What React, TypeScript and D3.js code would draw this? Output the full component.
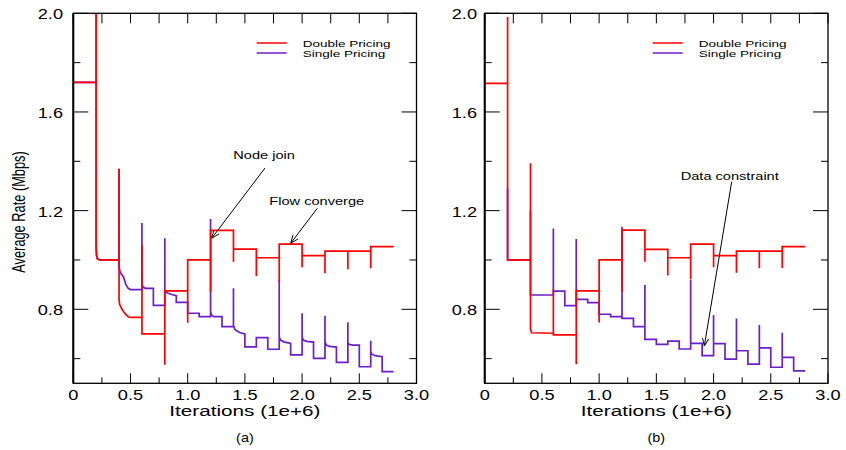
import React from "react";
import * as d3 from "d3";

// ---------- data ----------
type P = [number, number];

// Panel (a)
const doubleA: P[] = [
  [0, 1.72], [0.2, 1.72], [0.2, 2.05], [0.2, 1.05], [0.203, 1.02], [0.21, 1.005], [0.23, 1.0],
  [0.4, 1.0], [0.4, 1.37], [0.4, 0.84], [0.405, 0.82], [0.42, 0.805], [0.44, 0.79], [0.46, 0.778],
  [0.48, 0.77], [0.5, 0.767], [0.6, 0.767], [0.6, 1.06], [0.6, 0.7], [0.8, 0.7], [0.8, 0.575],
  [0.8, 0.875], [1.0, 0.875], [1.0, 0.745], [1.0, 1.0], [1.2, 1.0], [1.2, 0.87], [1.2, 1.12],
  [1.4, 1.12], [1.4, 0.993], [1.4, 1.044], [1.6, 1.044], [1.6, 0.935], [1.6, 1.009], [1.8, 1.009],
  [1.8, 0.912], [1.8, 1.064], [2.0, 1.064], [2.0, 0.97], [2.0, 1.018], [2.2, 1.018], [2.2, 0.946],
  [2.2, 1.036], [2.4, 1.036], [2.4, 0.962], [2.4, 1.036], [2.6, 1.036], [2.6, 0.966], [2.6, 1.054],
  [2.8, 1.054],
];

const singleA: P[] = [
  [0, 1.72], [0.2, 1.72], [0.2, 2.05], [0.2, 1.05], [0.203, 1.02], [0.21, 1.005], [0.23, 1.0],
  [0.4, 1.0], [0.4, 1.37], [0.4, 0.97], [0.41, 0.95], [0.425, 0.94], [0.44, 0.93], [0.46, 0.9],
  [0.48, 0.885], [0.5, 0.88], [0.6, 0.88], [0.6, 1.15], [0.6, 0.9], [0.61, 0.89], [0.63, 0.885],
  [0.7, 0.885], [0.7, 0.816], [0.8, 0.816], [0.8, 1.088], [0.8, 0.88], [0.81, 0.87], [0.83, 0.865],
  [0.86, 0.86], [0.9, 0.855], [0.9, 0.828], [1.0, 0.828], [1.0, 0.784], [1.1, 0.784], [1.1, 0.77],
  [1.2, 0.77], [1.2, 1.166], [1.2, 0.79], [1.21, 0.775], [1.23, 0.77], [1.3, 0.77], [1.3, 0.73],
  [1.4, 0.73], [1.4, 0.885], [1.4, 0.735], [1.41, 0.72], [1.43, 0.712], [1.46, 0.705], [1.5, 0.7],
  [1.5, 0.648], [1.6, 0.648], [1.6, 0.685], [1.7, 0.685], [1.7, 0.638], [1.8, 0.638], [1.8, 0.919],
  [1.8, 0.69], [1.81, 0.675], [1.84, 0.668], [1.9, 0.662], [1.9, 0.615], [2.0, 0.615], [2.0, 0.784],
  [2.0, 0.69], [2.01, 0.675], [2.04, 0.67], [2.1, 0.667], [2.1, 0.601], [2.2, 0.601], [2.2, 0.774],
  [2.2, 0.67], [2.21, 0.655], [2.24, 0.65], [2.3, 0.647], [2.3, 0.585], [2.4, 0.585], [2.4, 0.747],
  [2.4, 0.665], [2.41, 0.658], [2.44, 0.655], [2.5, 0.655], [2.5, 0.567], [2.6, 0.567], [2.6, 0.673],
  [2.6, 0.63], [2.61, 0.618], [2.64, 0.612], [2.7, 0.608], [2.7, 0.547], [2.8, 0.547],
];

// Panel (b)
const doubleB: P[] = [
  [0, 1.716], [0.2, 1.716], [0.2, 1.985], [0.2, 1.0], [0.4, 1.0], [0.4, 1.392], [0.4, 0.72],
  [0.41, 0.705], [0.6, 0.703], [0.6, 0.881], [0.6, 0.696], [0.8, 0.696], [0.8, 0.577], [0.8, 0.875],
  [1.0, 0.875], [1.0, 0.746], [1.0, 1.0], [1.2, 1.0], [1.2, 0.871], [1.2, 1.121], [1.4, 1.121],
  [1.4, 0.993], [1.4, 1.043], [1.6, 1.043], [1.6, 0.937], [1.6, 1.009], [1.8, 1.009], [1.8, 0.922],
  [1.8, 1.064], [2.0, 1.064], [2.0, 0.97], [2.0, 1.018], [2.2, 1.018], [2.2, 0.948], [2.2, 1.036],
  [2.4, 1.036], [2.4, 0.966], [2.4, 1.036], [2.6, 1.036], [2.6, 0.967], [2.6, 1.054], [2.8, 1.054],
];

const singleB: P[] = [
  [0.2, 1.29], [0.2, 1.0], [0.4, 1.0], [0.4, 1.2], [0.4, 0.858], [0.6, 0.858], [0.6, 1.128],
  [0.6, 0.874], [0.7, 0.874], [0.7, 0.815], [0.8, 0.815], [0.8, 1.085], [0.8, 0.84], [0.9, 0.84],
  [0.9, 0.827], [1.0, 0.827], [1.0, 0.78], [1.1, 0.78], [1.1, 0.77], [1.2, 0.77], [1.2, 1.135],
  [1.2, 0.763], [1.3, 0.763], [1.3, 0.73], [1.4, 0.73], [1.4, 0.899], [1.4, 0.678], [1.5, 0.678],
  [1.5, 0.658], [1.6, 0.658], [1.6, 0.671], [1.7, 0.671], [1.7, 0.639], [1.8, 0.639], [1.8, 0.92],
  [1.8, 0.662], [1.9, 0.662], [1.9, 0.612], [2.0, 0.612], [2.0, 0.777], [2.0, 0.661], [2.1, 0.661],
  [2.1, 0.598], [2.2, 0.598], [2.2, 0.763], [2.2, 0.632], [2.3, 0.632], [2.3, 0.578], [2.4, 0.578],
  [2.4, 0.736], [2.4, 0.644], [2.5, 0.644], [2.5, 0.565], [2.6, 0.565], [2.6, 0.705], [2.6, 0.605],
  [2.7, 0.605], [2.7, 0.55], [2.8, 0.55],
];

const xTicks = [0, 0.25, 0.5, 0.75, 1.0, 1.25, 1.5, 1.75, 2.0, 2.25, 2.5, 2.75, 3.0];
const xTickLabels = ["0", "0.5", "1.0", "1.5", "2.0", "2.5", "3.0"];
const yTicks = [0.6, 0.8, 1.0, 1.2, 1.4, 1.6, 1.8, 2.0];
const yTickLabels = ["0.8", "1.2", "1.6", "2.0"];
const seriesNames = ["Double Pricing", "Single Pricing"];
const yTitle = "Average Rate (Mbps)";
const xTitle = "Iterations (1e+6)";

const RED = "#ff0000";
const PURPLE = "#6a1fc8";
const FONT = "'Liberation Sans', Arial, Helvetica, sans-serif";

// ---------- layout ----------
const W = 846;
const H = 450;
const TOP = 13.3;
const BOTTOM = 383.3;

type Ann = { text: string; tx: number; ty: number; x1: number; y1: number; x2: number; y2: number };

function STxt(props: {
  x: number; y: number; sx: number; size: number; anchor?: string; children: React.ReactNode;
}) {
  const { x, y, sx, size, anchor = "start", children } = props;
  return (
    <text
      transform={`translate(${x},${y}) scale(${sx},1)`}
      fontSize={size}
      fontFamily={FONT}
      textAnchor={anchor}
      fill="#000"
    >
      {children}
    </text>
  );
}

function Panel(props: {
  id: string; left: number; right: number; dbl: P[]; sgl: P[]; caption: string;
  showYTitle: boolean; labelRight: number; legendX: number; ann: Ann[];
}) {
  const { id, left, right, dbl, sgl, caption, showYTitle, labelRight, legendX, ann } = props;
  const x = d3.scaleLinear().domain([0, 3]).range([left, right]);
  const y = d3.scaleLinear().domain([0.5, 2.0]).range([BOTTOM, TOP]);
  const line = d3.line<P>().x((d) => x(d[0])).y((d) => y(d[1]));
  const cx = (left + right) / 2;

  return (
    <g>
      <defs>
        <clipPath id={`clip-${id}`}>
          <rect x={left} y={TOP} width={right - left} height={BOTTOM - TOP} />
        </clipPath>
        <marker id={`arr-${id}`} viewBox="0 0 10 10" refX="10" refY="5" markerWidth="8" markerHeight="8" orient="auto-start-reverse" markerUnits="userSpaceOnUse">
          <path d="M0,1 L10,5 L0,9" fill="none" stroke="#000" strokeWidth={1.2} />
        </marker>
      </defs>

      {/* series */}
      <g clipPath={`url(#clip-${id})`}>
        <path d={line(sgl) || ""} fill="none" stroke={PURPLE} strokeWidth={1.7} strokeLinejoin="miter" />
        <path d={line(dbl) || ""} fill="none" stroke={RED} strokeWidth={1.7} strokeLinejoin="miter" />
      </g>

      {/* ticks */}
      {xTicks.map((t, i) => {
        const major = i % 2 === 0;
        return (
          <g key={`xt${i}`} stroke="#000" strokeWidth={1}>
            <line x1={x(t)} x2={x(t)} y1={BOTTOM} y2={BOTTOM - (major ? 10 : 6)} />
            <line x1={x(t)} x2={x(t)} y1={TOP} y2={TOP + 10} />
          </g>
        );
      })}
      {yTicks.map((t, i) => {
        const major = i % 2 === 1;
        const len = major ? 15 : 7;
        return (
          <g key={`yt${i}`} stroke="#000" strokeWidth={1}>
            <line x1={left} x2={left + len} y1={y(t)} y2={y(t)} />
            <line x1={right} x2={right - len} y1={y(t)} y2={y(t)} />
          </g>
        );
      })}

      {/* frame */}
      <rect x={left} y={TOP} width={right - left} height={BOTTOM - TOP} fill="none" stroke="#000" strokeWidth={1.3} />
      <line x1={left} x2={left} y1={TOP} y2={BOTTOM} stroke="#000" strokeWidth={2} />

      {/* tick labels */}
      {xTickLabels.map((s, i) => (
        <STxt key={`xl${i}`} x={x(i * 0.5)} y={400} sx={1.3} size={14} anchor="middle">{s}</STxt>
      ))}
      {yTickLabels.map((s, i) => (
        <STxt key={`yl${i}`} x={labelRight} y={y(+s) + 6} sx={1.3} size={14} anchor="end">{s}</STxt>
      ))}

      {/* titles */}
      <STxt x={cx} y={416} sx={1.38} size={15} anchor="middle">{xTitle}</STxt>
      <STxt x={cx} y={442} sx={1.2} size={12} anchor="middle">{caption}</STxt>
      {showYTitle && (
        <text
          transform={`translate(${25},${212}) rotate(-90) scale(1,1.45)`}
          fontSize={12.8}
          fontFamily={FONT}
          textAnchor="middle"
          fill="#000"
        >
          {yTitle}
        </text>
      )}

      {/* legend */}
      <line x1={legendX} x2={legendX + 30} y1={43} y2={43} stroke={RED} strokeWidth={1.5} />
      <line x1={legendX} x2={legendX + 30} y1={53} y2={53} stroke={PURPLE} strokeWidth={1.5} />
      <STxt x={legendX + 46} y={46.6} sx={1.41} size={9.6}>{seriesNames[0]}</STxt>
      <STxt x={legendX + 46} y={57.2} sx={1.41} size={9.6}>{seriesNames[1]}</STxt>

      {/* annotations */}
      {ann.map((a, i) => (
        <g key={`an${i}`}>
          <STxt x={a.tx} y={a.ty} sx={1.27} size={11.5}>{a.text}</STxt>
          <line x1={a.x1} y1={a.y1} x2={a.x2} y2={a.y2} stroke="#000" strokeWidth={1} markerEnd={`url(#arr-${id})`} />
        </g>
      ))}
    </g>
  );
}

export default function App() {
  return (
    <svg
      width={W}
      height={H}
      viewBox={`0 0 ${W} ${H}`}
      style={{ position: "absolute", left: 0, top: 0, background: "#fff" }}
    >
      <rect x={0} y={0} width={W} height={H} fill="#fff" />
      <Panel
        id="a"
        left={73.3}
        right={416.5}
        dbl={doubleA}
        sgl={singleA}
        caption="(a)"
        showYTitle={true}
        labelRight={63}
        legendX={256.7}
        ann={[
          { text: "Node join", tx: 233.3, ty: 159, x1: 265, y1: 168, x2: 211.7, y2: 238.3 },
          { text: "Flow converge", tx: 269.3, ty: 205.3, x1: 317.3, y1: 208.3, x2: 290.7, y2: 243.3 },
        ]}
      />
      <Panel
        id="b"
        left={484.7}
        right={828}
        dbl={doubleB}
        sgl={singleB}
        caption="(b)"
        showYTitle={false}
        labelRight={477}
        legendX={652.7}
        ann={[
          { text: "Data constraint", tx: 680.7, ty: 180, x1: 731.7, y1: 181.7, x2: 704.3, y2: 346 },
        ]}
      />
    </svg>
  );
}
